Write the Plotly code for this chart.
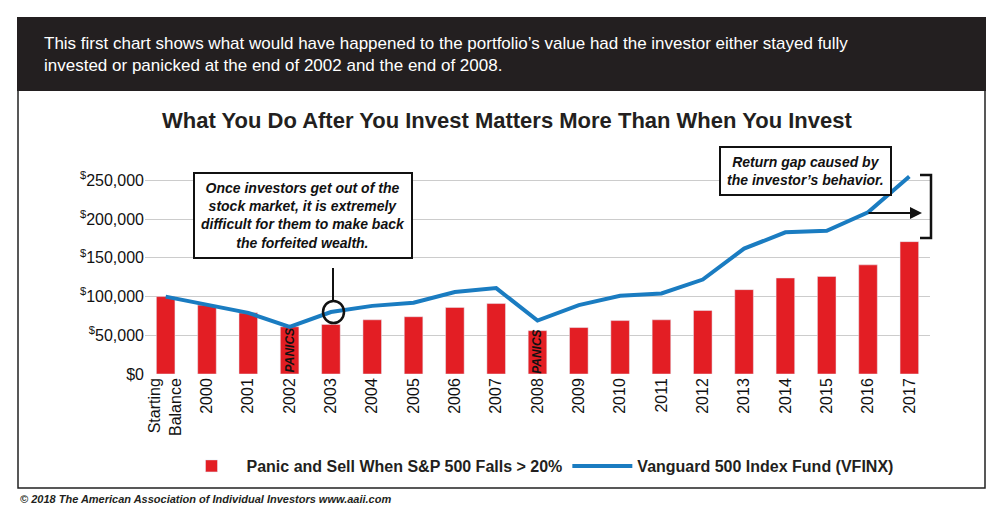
import plotly.graph_objects as go

categories = ["Starting<br>Balance", "2000", "2001", "2002", "2003", "2004", "2005", "2006", "2007",
              "2008", "2009", "2010", "2011", "2012", "2013", "2014", "2015", "2016", "2017"]
panic_values = [100000, 89000, 79000, 61000, 64000, 70000, 74000, 86000, 91000,
                56000, 60000, 69000, 70000, 82000, 109000, 124000, 126000, 141000, 171000]
vfinx_values = [100000, 90000, 79000, 61000, 80000, 88000, 92000, 106000, 111000,
                69000, 89000, 101000, 104000, 122000, 162000, 183000, 185000, 209000, 255000]
tick_vals = [0, 50000, 100000, 150000, 200000, 250000]
tick_text = ["$0", "<sup>$</sup>50,000", "<sup>$</sup>100,000", "<sup>$</sup>150,000",
             "<sup>$</sup>200,000", "<sup>$</sup>250,000"]

RED = "#e31e24"
BLUE = "#1a7cc1"
L, R, T, B = 145, 930, 165, 374

def px(x):
    return (x - L) / (R - L)

def py(y):
    return (B - y) / (B - T)

fig = go.Figure()
fig.add_trace(go.Bar(x=categories, y=panic_values, marker_color=RED, width=0.45,
                     name="<b>Panic and Sell When S&P 500 Falls > 20%</b>"))
fig.add_trace(go.Scatter(x=categories, y=vfinx_values, mode="lines",
                         line=dict(color=BLUE, width=4), name="<b>Vanguard 500 Index Fund (VFINX)</b>"))

shapes = [
    # outer border
    dict(type="rect", xref="paper", yref="paper", x0=px(18), x1=px(985), y0=py(488), y1=py(18),
         line=dict(color="#222", width=1.5), layer="below"),
    # header
    dict(type="rect", xref="paper", yref="paper", x0=px(18), x1=px(985), y0=py(90), y1=py(18),
         fillcolor="#231f20", line=dict(color="#231f20"), layer="below"),
    # circle at 2003
    dict(type="circle", xref="paper", yref="paper", x0=px(323), x1=px(344), y0=py(323), y1=py(301),
         line=dict(color="#111", width=2.5), fillcolor="rgba(0,0,0,0)"),
    # bracket
    dict(type="path", xref="paper", yref="paper",
         path=f"M {px(920)} {py(175)} L {px(931)} {py(175)} L {px(931)} {py(238)} L {px(920)} {py(238)}",
         line=dict(color="#111", width=2.5)),
    # callout pointer
    dict(type="line", xref="paper", yref="paper", x0=px(333), x1=px(333), y0=py(268), y1=py(301),
         line=dict(color="#111", width=2)),
]

annotations = [
    dict(xref="paper", yref="paper", x=px(42), y=py(54), xanchor="left", yanchor="middle", showarrow=False,
         align="left", text="This first chart shows what would have happened to the portfolio’s value had the investor either stayed fully<br>invested or panicked at the end of 2002 and the end of 2008.",
         font=dict(color="white", size=17, family="Liberation Sans")),
    dict(xref="paper", yref="paper", x=px(507), y=py(120), xanchor="center", yanchor="middle", showarrow=False,
         text="<b>What You Do After You Invest Matters More Than When You Invest</b>",
         font=dict(color="#231f20", size=22, family="Liberation Sans")),
    dict(xref="paper", yref="paper", x=px(18), y=py(499), xanchor="left", yanchor="middle", showarrow=False,
         text="<b><i>© 2018 The American Association of Individual Investors www.aaii.com</i></b>",
         font=dict(color="#231f20", size=11, family="Liberation Sans")),
    dict(xref="x", yref="y", x=3, y=30000, text="<b><i>PANICS</i></b>", textangle=-90, showarrow=False,
         font=dict(color="#111", size=12, family="Liberation Sans")),
    dict(xref="x", yref="y", x=9, y=28000, text="<b><i>PANICS</i></b>", textangle=-90, showarrow=False,
         font=dict(color="#111", size=12, family="Liberation Sans")),
    dict(xref="paper", yref="paper", x=px(303), y=py(215), xanchor="center", yanchor="middle",
         text="<b><i>Once investors get out of the<br>stock market, it is extremely<br>difficult for them to make back<br>the forfeited wealth.</i></b>",
         showarrow=False, bgcolor="white", bordercolor="#111", borderwidth=2, borderpad=6,
         font=dict(color="#111", size=14, family="Liberation Sans")),
    dict(xref="paper", yref="paper", x=px(805), y=py(171), xanchor="center", yanchor="middle",
         text="<b><i>Return gap caused by<br>the investor’s behavior.</i></b>", showarrow=False,
         bgcolor="white", bordercolor="#111", borderwidth=2, borderpad=6,
         font=dict(color="#111", size=14, family="Liberation Sans")),
    dict(xref="paper", yref="paper", x=px(922), y=py(213), ax=-55, ay=0, showarrow=True,
         arrowhead=2, arrowsize=1.2, arrowwidth=2, arrowcolor="#111", text=""),
]

fig.update_layout(
    width=1000, height=508,
    margin=dict(l=L, r=1000 - R, t=T, b=508 - B),
    paper_bgcolor="white", plot_bgcolor="white",
    font=dict(family="Liberation Sans", color="#231f20"),
    shapes=shapes, annotations=annotations,
    legend=dict(orientation="h", x=0.5, xanchor="center", y=py(466), yanchor="middle",
                font=dict(size=16, family="Liberation Sans", color="#231f20"), itemwidth=60),
    showlegend=True,
)
fig.update_xaxes(type="category", categoryarray=categories, range=[-0.5, 18.5], tickangle=-90,
                 tickfont=dict(size=16, color="#111"), showline=False, ticks="", automargin=False)
fig.update_yaxes(range=[0, 270000], tickvals=tick_vals, ticktext=tick_text,
                 tickfont=dict(size=16, color="#111"),
                 showgrid=True, gridcolor="#ccc", gridwidth=1, zeroline=False, automargin=False)

fig.write_html("out.html", config={"displayModeBar": False},
               post_script="document.body.style.margin='0';")
